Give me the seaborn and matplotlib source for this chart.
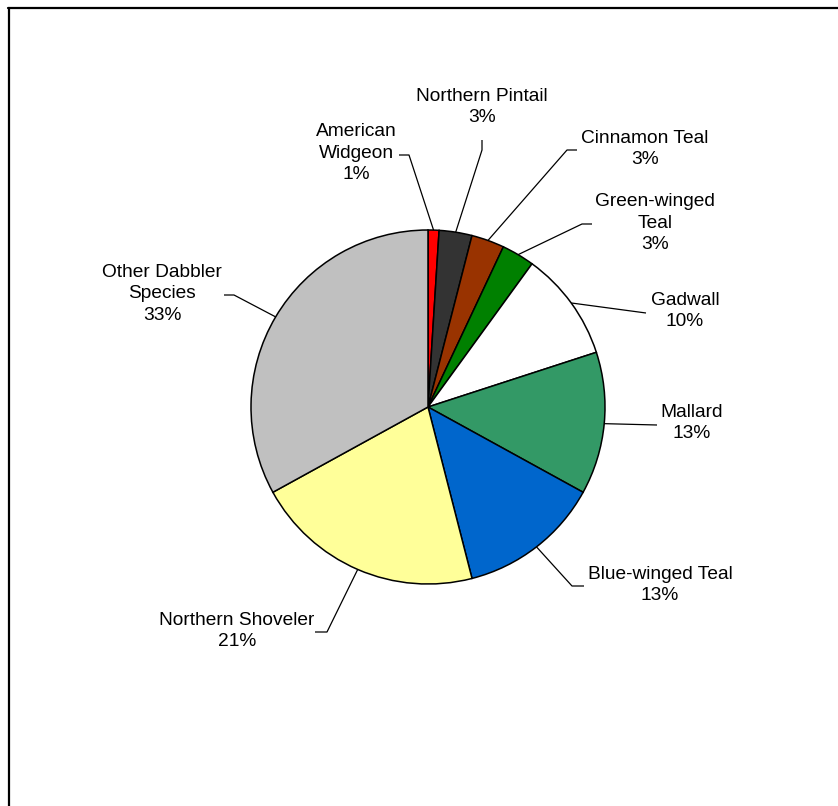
import matplotlib
matplotlib.use("Agg")
import matplotlib.pyplot as plt
from matplotlib.lines import Line2D
import numpy as np
import seaborn as sns

# Dabbling duck species composition (percent of total)
species = [
    "American\nWidgeon",
    "Northern Pintail",
    "Cinnamon Teal",
    "Green-winged\nTeal",
    "Gadwall",
    "Mallard",
    "Blue-winged Teal",
    "Northern Shoveler",
    "Other Dabbler\nSpecies",
]
percent = [1, 3, 3, 3, 10, 13, 13, 21, 33]
slice_colors = ["#FF0000", "#333333", "#993300", "#008000", "#FFFFFF",
                "#339966", "#0066CC", "#FFFF99", "#C0C0C0"]

sns.set_theme(style="white")
plt.rcParams["font.family"] = ["Liberation Sans", "DejaVu Sans"]

W, H = 838, 806
fig = plt.figure(figsize=(W / 100, H / 100), dpi=100)
ax = fig.add_axes([0, 0, 1, 1])


def py(p):
    """Pixel row measured from the top -> axis y."""
    return H - p


cx, cy, r = 428, py(407), 177
wedges, _ = ax.pie(
    percent, colors=slice_colors, startangle=90, counterclock=False,
    center=(cx, cy), radius=r,
    wedgeprops=dict(edgecolor="black", linewidth=1.1),
)
ax.set_xlim(0, W)
ax.set_ylim(0, H)
ax.set_aspect("equal")
ax.axis("off")

# label centre and leader-line waypoints (label end first), in pixel rows from top
label_layout = [
    dict(xy=(356, 153), path=[(399, 155), (409, 155)]),
    dict(xy=(482, 107), path=[(482, 140), (482, 150)]),
    dict(xy=(645, 149), path=[(577, 150), (567, 150)]),
    dict(xy=(655, 223), path=[(592, 224), (582, 224)]),
    dict(xy=(685, 311), path=[(646, 313)]),
    dict(xy=(692, 423), path=[(657, 425)]),
    dict(xy=(660, 585), path=[(584, 586), (572, 586)]),
    dict(xy=(237, 631), path=[(315, 632), (327, 632)]),
    dict(xy=(162, 294), path=[(224, 295), (234, 295)]),
]

for w, name, val, lay in zip(wedges, species, percent, label_layout):
    mid = np.deg2rad((w.theta1 + w.theta2) / 2)
    ex = cx + r * np.cos(mid)
    ey = cy + r * np.sin(mid)
    xs = [p[0] for p in lay["path"]] + [ex]
    ys = [py(p[1]) for p in lay["path"]] + [ey]
    ax.plot(xs, ys, color="black", linewidth=0.9, solid_capstyle="butt", zorder=1)
    ax.text(lay["xy"][0], py(lay["xy"][1]), f"{name}\n{val}%",
            ha="center", va="center", multialignment="center",
            fontsize=13.8, linespacing=1.33, color="black")

# chart-area frame (left and top edges)
fig.add_artist(Line2D([9 / W, 9 / W], [0, 1 - 7.5 / H], transform=fig.transFigure,
                      color="black", linewidth=1.6))
fig.add_artist(Line2D([8.2 / W, 1], [1 - 7.5 / H, 1 - 7.5 / H], transform=fig.transFigure,
                      color="black", linewidth=1.6))

fig.savefig("out.png", dpi=100, facecolor="white")
